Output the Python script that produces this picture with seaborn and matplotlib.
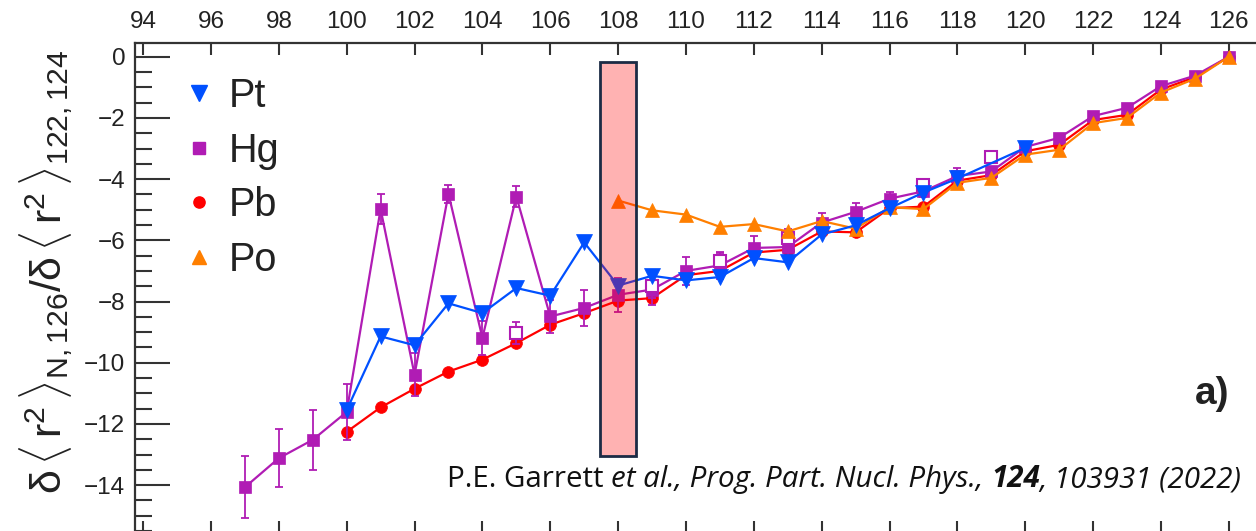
import matplotlib
matplotlib.use("Agg")
import matplotlib.pyplot as plt
from matplotlib.lines import Line2D
from matplotlib.patches import Rectangle
from matplotlib.ticker import MultipleLocator
import seaborn as sns
import pandas as pd

# ---- data: delta<r^2>_{N,126} / delta<r^2>_{122,124} --------------------
pt_n = [100, 101, 102, 103, 104, 105, 106, 107, 108, 109, 110, 111, 112, 113,
        114, 115, 116, 117, 118, 120]
pt_val = [-11.55, -9.14, -9.43, -8.06, -8.38, -7.56, -7.81, -6.07, -7.48, -7.16,
          -7.31, -7.20, -6.58, -6.72, -5.81, -5.51, -4.95, -4.44, -3.98, -2.98]

hg_n = [97, 98, 99, 100, 101, 102, 103, 104, 105, 106, 107, 108, 109, 110, 111,
        112, 113, 114, 115, 116, 117, 118, 119, 120, 121, 122, 123, 124, 125, 126]
hg_val = [-14.07, -13.12, -12.52, -11.61, -4.98, -10.39, -4.48, -9.19, -4.57,
          -8.49, -8.21, -7.78, -7.61, -7.00, -6.82, -6.25, -6.22, -5.42, -5.07,
          -4.64, -4.40, -3.90, -3.75, -2.95, -2.65, -1.94, -1.67, -0.96, -0.62,
          0.0]
hg_err = [1.02, 0.95, 0.98, 0.90, 0.48, 0.70, 0.30, 0.55, 0.33, 0.55, 0.58,
          0.55, 0.52, 0.45, 0.45, 0.40, 0.40, 0.30, 0.30, 0.22, 0.20, 0.25,
          0.0, 0.0, 0.0, 0.0, 0.0, 0.0, 0.0, 0.0]

# Hg isomers (open symbols)
hgm_n = [105, 109, 111, 113, 117, 119]
hgm_val = [-9.03, -7.50, -6.69, -5.93, -4.20, -3.29]
hgm_err = [0.35, 0.40, 0.27, 0.30, 0.12, 0.0]

pb_n = list(range(100, 127))
pb_val = [-12.26, -11.46, -10.85, -10.29, -9.90, -9.36, -8.76, -8.38, -7.97,
          -7.89, -7.14, -7.00, -6.40, -6.31, -5.71, -5.74, -4.95, -4.90, -4.05,
          -3.87, -3.09, -2.88, -2.07, -1.90, -1.07, -0.67, 0.0]

po_n = list(range(108, 127))
po_val = [-4.70, -5.02, -5.16, -5.56, -5.47, -5.71, -5.37, -5.62, -4.92, -4.98,
          -4.12, -3.96, -3.20, -3.04, -2.17, -2.00, -1.17, -0.72, 0.0]

elements = ["Pt", "Hg", "Pb", "Po"]
colors = {"Pt": "#0050ff", "Hg": "#b01cb4", "Pb": "#ff0000", "Po": "#ff7f00"}
markers = {"Pt": "v", "Hg": "s", "Pb": "o", "Po": "^"}
msizes = {"Pt": 12, "Hg": 9, "Pb": 8.5, "Po": 10.5}
layers = {"Pb": 3, "Hg": 4, "Po": 5, "Pt": 6}

x_ticks = list(range(94, 127, 2))
y_ticks = list(range(0, -15, -2))
citation = [("P.E. Garrett ", "normal", "normal"),
            ("et al., Prog. Part. Nucl. Phys., ", "italic", "normal"),
            ("124", "italic", "bold"),
            (", 103931 (2022)", "italic", "normal")]

frames = []
for name, n, v in [("Pt", pt_n, pt_val), ("Hg", hg_n, hg_val),
                   ("Pb", pb_n, pb_val), ("Po", po_n, po_val)]:
    frames.append(pd.DataFrame({"N": n, "value": v, "element": name}))
df = pd.concat(frames, ignore_index=True)

# ---- style -------------------------------------------------------------
sns.set_style("ticks")
plt.rcParams["font.family"] = ["Liberation Sans", "DejaVu Sans"]
plt.rcParams["mathtext.fontset"] = "custom"
plt.rcParams["mathtext.rm"] = "Liberation Sans"
plt.rcParams["mathtext.it"] = "Liberation Sans:italic"
plt.rcParams["mathtext.bf"] = "Liberation Sans:bold"
ink = "#222222"

W, H = 1256, 531
fig = plt.figure(figsize=(W / 100, H / 100), dpi=100)
# axes box in pixels: left 135, top 42.7, extends slightly past right/bottom
ax_l, ax_r, ax_t, ax_b = 135, 1262, 42.7, 533
ax = fig.add_axes([ax_l / W, (H - ax_b) / H, (ax_r - ax_l) / W, (ax_b - ax_t) / H])

px_per_n = 33.93
x0_px = 143.1
ax.set_xlim(94 - (x0_px - ax_l) / px_per_n, 94 + (ax_r - x0_px) / px_per_n)
px_per_v = 30.6
y0_px = 56.7
ax.set_ylim(-(ax_b - y0_px) / px_per_v, (y0_px - ax_t) / px_per_v)

# error bars for Hg
e_n = [n for n, e in zip(hg_n, hg_err) if e > 0]
e_v = [v for v, e in zip(hg_val, hg_err) if e > 0]
e_e = [e for e in hg_err if e > 0]
ax.errorbar(e_n, e_v, yerr=e_e, fmt="none", ecolor=colors["Hg"],
            elinewidth=1.3, capsize=3.2, capthick=1.3, zorder=3.5)

for el in elements:
    sub = df[df["element"] == el]
    sns.lineplot(data=sub, x="N", y="value", ax=ax, color=colors[el],
                 marker=markers[el], markersize=msizes[el],
                 markeredgecolor=colors[el], markeredgewidth=0.5,
                 linewidth=1.6, estimator=None, sort=False, legend=False,
                 zorder=layers[el])

# Hg isomers
m_n = [n for n, e in zip(hgm_n, hgm_err) if e > 0]
m_v = [v for v, e in zip(hgm_val, hgm_err) if e > 0]
m_e = [e for e in hgm_err if e > 0]
ax.errorbar(m_n, m_v, yerr=m_e, fmt="none", ecolor=colors["Hg"],
            elinewidth=1.3, capsize=3.2, capthick=1.3, zorder=4.4)
ax.plot(hgm_n, hgm_val, linestyle="none", marker="s", markersize=9,
        markerfacecolor="white", markeredgecolor=colors["Hg"],
        markeredgewidth=1.5, zorder=4.5)

# highlighted N = 108 band
ax.add_patch(Rectangle((107.466, -13.05), 1.06, 12.88,
                       facecolor=(1, 0, 0, 0.3), edgecolor="#1c2b45",
                       linewidth=2.0, zorder=8))

# ---- axes, ticks -------------------------------------------------------
for s in ax.spines.values():
    s.set_linewidth(1.6)
    s.set_color("#333333")
ax.set_xticks(x_ticks)
ax.set_yticks(y_ticks)
ax.set_yticklabels([str(v).replace("-", "\u2212") for v in y_ticks])
ax.yaxis.set_minor_locator(MultipleLocator(0.5))
ax.tick_params(axis="x", which="major", direction="in", top=True, bottom=True,
               labeltop=True, labelbottom=False, length=8.8, width=1.5,
               labelsize=17.5, pad=7, colors="#333333", labelcolor=ink)
ax.tick_params(axis="y", which="major", direction="in", left=True, right=False,
               length=25, width=1.5, labelsize=17.5, pad=7, colors="#333333",
               labelcolor=ink)
ax.tick_params(axis="y", which="minor", direction="in", left=True, right=False,
               length=12, width=1.5, colors="#333333")
ax.set_xlabel("")
ax.set_ylabel("")

fig.text(46 / W, 1 - 272 / H,
         r"$\mathrm{\delta}\,\langle\,\mathrm{r}^{2}\,\rangle_{\mathrm{N,126}}"
         r"/\mathrm{\delta}\,\langle\,\mathrm{r}^{2}\,\rangle_{122,124}$",
         rotation=90, ha="center", va="center", fontsize=31, color=ink)

# legend
handles = [Line2D([], [], linestyle="none", marker=markers[el],
                  markersize=msizes[el] * 0.95, color=colors[el],
                  markeredgecolor=colors[el]) for el in elements]
ax.legend(handles, elements, loc="upper left",
          bbox_to_anchor=(181 / W, 1 - 77 / H), bbox_transform=fig.transFigure,
          frameon=False, fontsize=28.5, handlelength=0.9, handletextpad=0.3,
          labelspacing=0.42, borderpad=0, borderaxespad=0, labelcolor=ink)

ax.text(1212, 137, "a)", transform=None, fontsize=28, fontweight="bold",
        color=ink, ha="center", va="center")

# reference line, fitted to its span
fig.canvas.draw()
renderer = fig.canvas.get_renderer()
cit_family = ["Open Sans", "DejaVu Sans"]
size = 19.0
target = 1240 - 447
for _ in range(2):
    total = 0.0
    for s, st, wt in citation:
        t = fig.text(0, 0, s, fontsize=size, style=st, weight=wt, family=cit_family)
        total += t.get_window_extent(renderer).width
        t.remove()
    size *= target / total
x = 447.0
for s, st, wt in citation:
    t = fig.text(x / W, 1 - 487 / H, s, fontsize=size, style=st, weight=wt,
                 family=cit_family, color="#111111", ha="left", va="baseline")
    x += t.get_window_extent(renderer).width

fig.savefig("out.png", dpi=100)
